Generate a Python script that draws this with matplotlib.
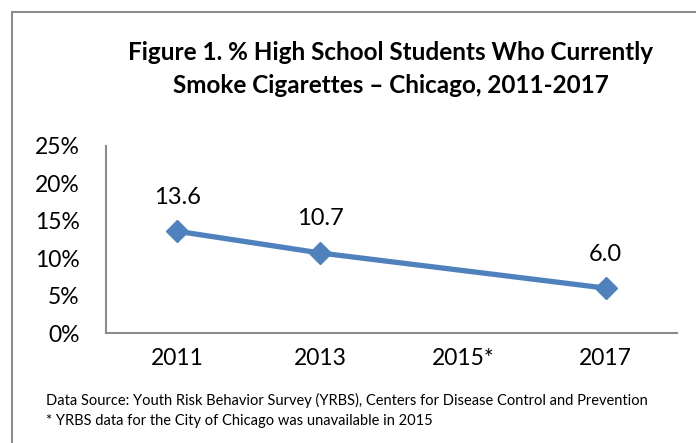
import matplotlib

matplotlib.use("Agg")
import matplotlib.pyplot as plt
from matplotlib.patches import Rectangle

years = ["2011", "2013", "2015*", "2017"]
pct_years = ["2011", "2013", "2017"]
pct_values = [13.6, 10.7, 6.0]
y_ticks = [0, 5, 10, 15, 20, 25]

title = "Figure 1. % High School Students Who Currently\nSmoke Cigarettes \u2013 Chicago, 2011-2017"
notes = [
    "Data Source: Youth Risk Behavior Survey (YRBS), Centers for Disease Control and Prevention",
    "* YRBS data for the City of Chicago was unavailable in 2015",
]

plt.rcParams["font.family"] = ["Lato", "DejaVu Sans"]
blue = "#4F81BD"
grey = "#8C8C8C"

fig = plt.figure(figsize=(6.96, 4.43), dpi=100)
# outer chart frame (runs off the right / bottom edge like the source)
fig.patches.append(Rectangle((12 / 696, -0.05), 1.2, 1 - 12 / 443 + 0.05, transform=fig.transFigure,
                             fill=False, edgecolor=grey, linewidth=1.5))

ax = fig.add_axes([106 / 696, 1 - 333 / 443, (677 - 106) / 696, (333 - 146) / 443])
xs = [years.index(y) for y in pct_years]
ax.plot(xs, pct_values, color=blue, linewidth=3.8, marker="D", markersize=11, zorder=3)
for x, v in zip(xs, pct_values):
    ax.annotate(f"{v:.1f}", (x, v), xytext=(0, 17), textcoords="offset points",
                ha="center", va="bottom", fontsize=17)

ax.set_xlim(-0.5, len(years) - 0.5)
ax.set_ylim(0, 25)
ax.set_xticks(range(len(years)))
ax.set_xticklabels(years, fontsize=16.5)
ax.set_yticks(y_ticks)
ax.set_yticklabels([f"{t}%" for t in y_ticks], fontsize=16.5)
ax.tick_params(axis="both", length=0)
ax.tick_params(axis="y", pad=19)
ax.tick_params(axis="x", pad=11)
for s in ("top", "right"):
    ax.spines[s].set_visible(False)
for s in ("left", "bottom"):
    ax.spines[s].set_color(grey)
    ax.spines[s].set_linewidth(1.5)

fig.text(391 / 696, 1 - 69 / 443, title, ha="center", va="center", fontsize=17.5,
         fontweight="bold", linespacing=1.55)
fig.text(46 / 696, 1 - 400 / 443, notes[0], ha="left", va="center", fontsize=10.5)
fig.text(46 / 696, 1 - 421 / 443, notes[1], ha="left", va="center", fontsize=10.5)

fig.savefig("out.png", dpi=100)
